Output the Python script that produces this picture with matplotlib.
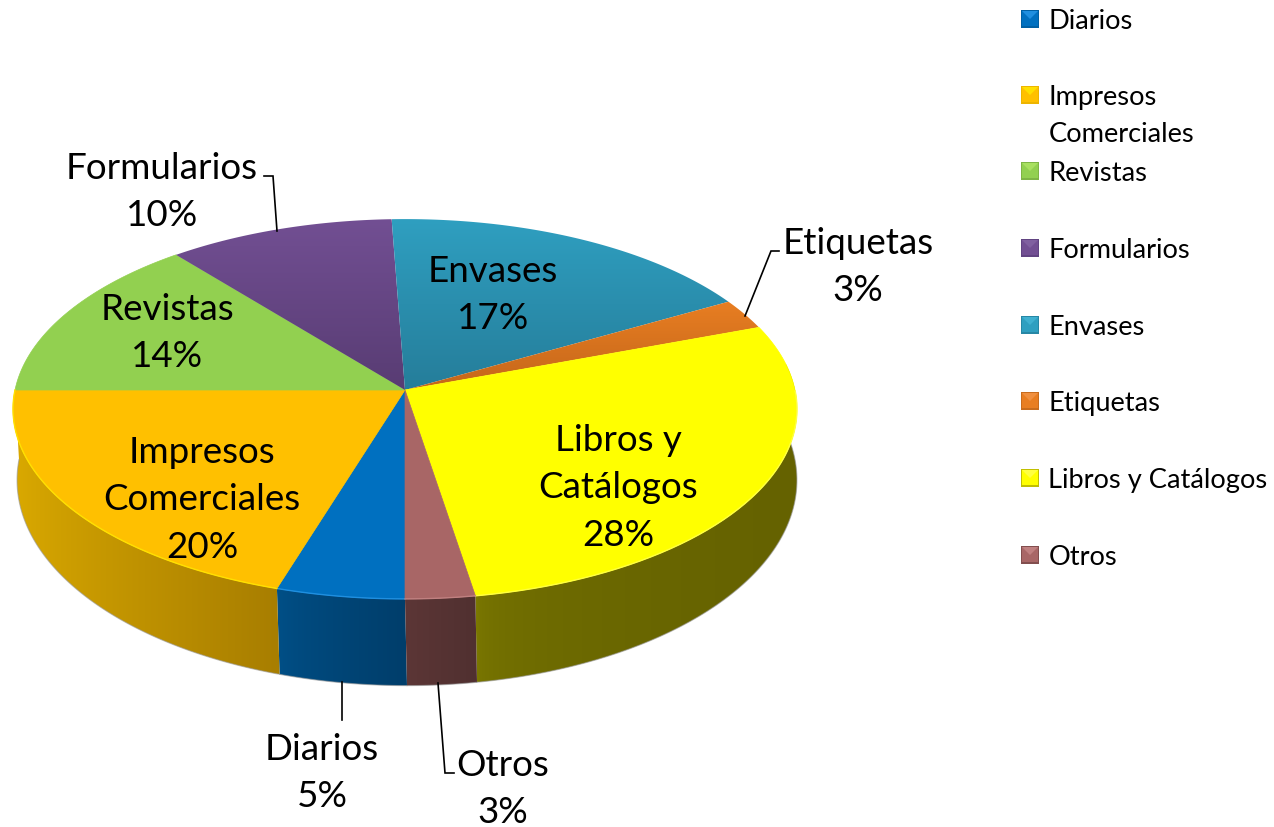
import numpy as np
import matplotlib
matplotlib.use("Agg")
import matplotlib.pyplot as plt
from matplotlib.colors import LinearSegmentedColormap, to_rgb
from matplotlib.patches import Polygon

plt.rcParams['font.family'] = ['Lato', 'DejaVu Sans']

categories = ["Diarios", "Impresos Comerciales", "Revistas", "Formularios",
              "Envases", "Etiquetas", "Libros y Catálogos", "Otros"]
values = [4.8, 20.2, 14.1, 10.3, 17.4, 2.6, 28.0, 2.6]

# top face colours (upper, lower) and wall colours (left, right)
top_colors = [("#0070C0", "#0070C0"), ("#FFC000", "#FFC000"), ("#92D050", "#92D050"),
              ("#724F93", "#583C73"), ("#2F9FC0", "#257D9A"), ("#E87E22", "#C4661A"),
              ("#FFFF00", "#FFFF00"), ("#A86666", "#A86666")]
wall_colors = [("#005088", "#003E6B"), ("#DBAA00", "#A87E00"), ("#6A9A3A", "#5A8530"),
               ("#503870", "#402C5A"), ("#1F6F8A", "#1A5F78"), ("#A85A18", "#904C14"),
               ("#827F00", "#656200"), ("#5C3636", "#503030")]
wall_gamma = [0.7, 0.8, 1, 1, 1, 1, 0.25, 1]
rim_colors = ["#1F8FE0", "#FFE000", "#A8E060", "#8060A0", "#40B0D0", "#F09040", "#FFFF40", "#C08080"]

# pie geometry in pixels: a circle seen in perspective
CX, CY = 405, 391
RX, RY, K = 390, 188, 0.10
CX2, CY2, RX2, RY2 = 407, 460.5, 388, 203.5


def project(theta, cx, cy, rx, ry):
    # theta runs clockwise from the front of the pie
    u = -np.sin(theta)
    v = -np.cos(theta)
    w = 1 + K * v
    return cx + rx * u / w, cy - ry * v / w


def gradient_fill(ax, xs, ys, c1, c2, horizontal=False, gamma=1):
    pts = np.column_stack([xs, ys])
    poly = Polygon(pts, closed=True, transform=ax.transData, fc="none", ec="none")
    ax.add_patch(poly)
    cmap = LinearSegmentedColormap.from_list("g", [to_rgb(c1), to_rgb(c2)])
    grad = np.linspace(0, 1, 256) ** gamma
    grad = grad.reshape(1, -1) if horizontal else grad.reshape(-1, 1)
    im = ax.imshow(grad, cmap=cmap, aspect="auto", zorder=2 if horizontal else 3, vmin=0, vmax=1,
                   extent=(xs.min(), xs.max(), ys.max(), ys.min()), interpolation="bilinear")
    im.set_clip_path(poly)


fig = plt.figure(figsize=(12.74, 8.28), dpi=100)
ax = fig.add_axes([0, 0, 1, 1])

edges = np.cumsum([0] + values) / sum(values) * 2 * np.pi

# walls first, the top faces hide whatever lies behind them
for i, val in enumerate(values):
    th = np.linspace(edges[i], edges[i + 1], max(int(val * 6), 4))
    th = th[(-np.cos(th) < 0) | ((np.sin(th) < 0) & (-np.cos(th) < 0.15))]
    if len(th) < 2:
        continue
    x1, y1 = project(th, CX, CY, RX, RY)
    x2, y2 = project(th, CX2, CY2, RX2, RY2)
    gradient_fill(ax, np.r_[x1, x2[::-1]], np.r_[y1, y2[::-1]],
                  wall_colors[i][0], wall_colors[i][1], horizontal=True, gamma=wall_gamma[i])
    ax.plot(x2, y2, color="#999999", lw=0.8, alpha=0.6, zorder=2)

# top faces
for i, val in enumerate(values):
    th = np.linspace(edges[i], edges[i + 1], max(int(val * 6), 4))
    x, y = project(th, CX, CY, RX, RY)
    xs = np.r_[CX, x]
    ys = np.r_[CY, y]
    if top_colors[i][0] == top_colors[i][1]:
        ax.fill(xs, ys, fc=top_colors[i][0], ec=top_colors[i][0], lw=0.5, zorder=3)
    else:
        gradient_fill(ax, xs, ys, top_colors[i][0], top_colors[i][1])
    # thin light rim along the front edge
    front = -np.cos(th) < 0
    if front.sum() > 1:
        ax.plot(x[front], y[front], color=rim_colors[i], lw=1.0, zorder=4)

ax.set_xlim(0, 1274)
ax.set_ylim(828, 0)
ax.axis("off")

# data labels
label_pos = [(322, 773), (202, 500), (167, 333), (162, 192), (493, 295), (858, 267), (618, 488), (503, 789)]
label_names = ["Diarios", "Impresos\nComerciales", "Revistas", "Formularios",
               "Envases", "Etiquetas", "Libros y\nCatálogos", "Otros"]
for name, val, (lx, ly) in zip(label_names, values, label_pos):
    ax.text(lx, ly, f"{name}\n{val:.0f}%", ha="center", va="center", fontsize=26.5,
            linespacing=1.55, color="black", zorder=6)

# leader lines
leaders = [([342, 342], [683, 721]),
           ([264, 273, 277], [177, 177, 232]),
           ([779, 771, 745], [252, 252, 317]),
           ([438, 445, 454], [684, 774, 774])]
for lx, ly in leaders:
    ax.plot(lx, ly, color="black", lw=1.2, zorder=5, solid_joinstyle="miter")

# legend
legend_names = ["Diarios", "Impresos\nComerciales", "Revistas", "Formularios",
                "Envases", "Etiquetas", "Libros y Catálogos", "Otros"]
legend_y = [20, 96, 172, 249, 326, 402, 479, 556]
for i, (name, ly) in enumerate(zip(legend_names, legend_y)):
    c_hi = to_rgb(rim_colors[i])
    c_base = np.array(to_rgb(top_colors[i][0]))
    c_low = 0.5 * (c_base + np.array(to_rgb(wall_colors[i][0])))
    ax.fill([1021, 1039, 1039, 1021], [ly - 9, ly - 9, ly + 9, ly + 9],
            fc=c_low, ec="none", zorder=5)
    ax.fill([1022, 1038, 1038, 1022], [ly - 8, ly - 8, ly + 7, ly + 7],
            fc=c_base, ec="none", zorder=6)
    ax.fill([1022, 1038, 1030], [ly - 8, ly - 8, ly], fc=c_hi, ec="none", zorder=7)
    ax.text(1048.5, ly - 11, name, ha="left", va="top", fontsize=19.6, linespacing=1.6,
            color="black", zorder=6)

fig.savefig("out.png", dpi=100)
